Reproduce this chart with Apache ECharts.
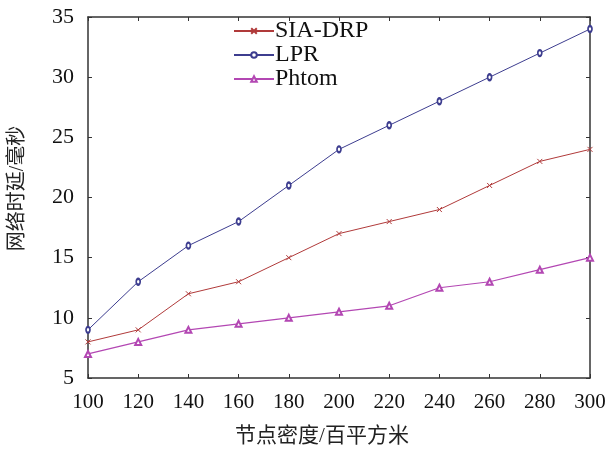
<!DOCTYPE html>
<html>
<head>
<meta charset="utf-8">
<script src="https://cdn.jsdelivr.net/npm/echarts@6/dist/echarts.min.js"></script>
<style>html,body{margin:0;padding:0;background:#fff;}#c{width:612px;height:452px;}</style>
</head>
<body>
<div id="c"></div>
<script>
var xValues = [100, 120, 140, 160, 180, 200, 220, 240, 260, 280, 300];
var siaDrp = [8, 9, 12, 13, 15, 17, 18, 19, 21, 23, 24];
var lpr = [9, 13, 16, 18, 21, 24, 26, 28, 30, 32, 34];
var phtom = [7, 8, 9, 9.5, 10, 10.5, 11, 12.5, 13, 14, 15];
var seriesNames = ['SIA-DRP', 'LPR', 'Phtom'];
var xName = '节点密度/百平方米';
var yName = '网络时延/毫秒';

function pairs(v) { return xValues.map(function (x, i) { return [x, v[i]]; }); }

var FONT = '"Liberation Serif", "Times New Roman", "Noto Sans CJK SC", serif';
var axisColor = '#333';
var chart = echarts.init(document.getElementById('c'));
var xSymbol = 'path://M0,0L10,10M10,0L0,10';

chart.setOption({
  backgroundColor: '#fff',
  animation: false,
  grid: { left: 81, right: 22, top: 17, bottom: 71 },
  legend: {
    orient: 'vertical', left: 228, top: 14, itemGap: 0,
    itemWidth: 40, itemHeight: 7,
    textStyle: { fontFamily: FONT, fontSize: 24, color: '#111', padding: [0, 0, 0, -4], lineHeight: 23 },
    data: seriesNames
  },
  xAxis: [{
    type: 'value', min: 100, max: 300, interval: 20,
    name: xName, nameLocation: 'middle', nameGap: 48,
    nameTextStyle: { fontFamily: FONT, fontSize: 21, color: '#222', padding: [0, 34, 0, 0] },
    axisLine: { show: true, lineStyle: { color: axisColor, width: 1.5 } },
    axisTick: { inside: true, length: 4, lineStyle: { color: axisColor } },
    axisLabel: { fontFamily: FONT, fontSize: 21, color: '#111', margin: 14 },
    splitLine: { show: false }
  }, {
    type: 'value', min: 100, max: 300, interval: 20, position: 'top',
    axisLine: { show: true, lineStyle: { color: axisColor, width: 1.5 } },
    axisTick: { inside: true, length: 4, lineStyle: { color: axisColor } },
    axisLabel: { show: false }, splitLine: { show: false }
  }],
  yAxis: [{
    type: 'value', min: 5, max: 35, interval: 5,
    name: yName, nameLocation: 'middle', nameGap: 60,
    nameTextStyle: { fontFamily: FONT, fontSize: 20, color: '#222', padding: [0, 0, 0, 18] },
    axisLine: { show: true, lineStyle: { color: axisColor, width: 1.5 } },
    axisTick: { inside: true, length: 4, lineStyle: { color: axisColor } },
    axisLabel: { fontFamily: FONT, fontSize: 22, color: '#111', margin: 14 },
    splitLine: { show: false }
  }, {
    type: 'value', min: 5, max: 35, interval: 5, position: 'right',
    axisLine: { show: true, lineStyle: { color: axisColor, width: 1.5 } },
    axisTick: { inside: true, length: 4, lineStyle: { color: axisColor } },
    axisLabel: { show: false }, splitLine: { show: false }
  }],
  series: [{
    name: seriesNames[0], type: 'line', data: pairs(siaDrp),
    symbol: xSymbol, symbolSize: 5,
    lineStyle: { color: '#b03a3a', width: 1 },
    itemStyle: { color: '#b03a3a', borderColor: '#b03a3a', borderWidth: 1 }
  }, {
    name: seriesNames[1], type: 'line', data: pairs(lpr),
    symbol: 'emptyCircle', symbolSize: [4, 6],
    lineStyle: { color: '#3d3d8f', width: 1 },
    itemStyle: { color: '#3d3d8f', borderColor: '#3d3d8f', borderWidth: 1 }
  }, {
    name: seriesNames[2], type: 'line', data: pairs(phtom),
    symbol: 'emptyTriangle', symbolSize: 6,
    lineStyle: { color: '#b347b3', width: 1.2 },
    itemStyle: { color: '#b347b3', borderColor: '#b347b3', borderWidth: 1 }
  }]
});
</script>
</body>
</html>
